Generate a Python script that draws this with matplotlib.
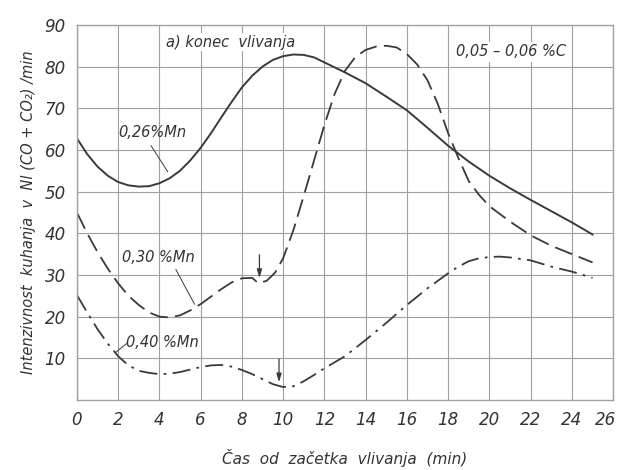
import matplotlib.pyplot as plt
import matplotlib.transforms as mtransforms
import numpy as np

# krivulje - odčitano s slike
x_26 = [0, 0.5, 1, 1.5, 2, 2.5, 3, 3.5, 4, 4.5, 5, 5.5, 6, 6.5, 7, 7.5, 8, 8.5, 9, 9.5,
        10, 10.5, 11, 11.5, 12, 13, 14, 15, 16, 17, 18, 19, 20, 21, 22, 23, 24, 25]
y_26 = [62.8, 59, 56, 53.8, 52.3, 51.5, 51.2, 51.3, 52, 53.2, 55, 57.5, 60.5, 64, 67.8, 71.5, 75, 77.8, 80, 81.6,
        82.5, 82.9, 82.8, 82.2, 81, 78.6, 76, 72.8, 69.5, 65.3, 61, 57.2, 53.8, 50.8, 48, 45.3, 42.6, 39.7]

x_30 = [0, 0.5, 1, 1.5, 2, 2.5, 3, 3.5, 4, 4.5, 5, 5.5, 6, 6.5, 7, 7.5, 8, 8.5, 8.8, 9.2, 9.6,
        10, 10.5, 11, 11.5, 12, 12.5, 13, 13.5, 14, 14.5, 15, 15.5, 16, 16.5, 17, 17.5, 18, 18.5,
        19, 19.5, 20, 21, 22, 23, 24, 25]
y_30 = [45, 40, 35.5, 31.5, 28, 25, 22.8, 21, 20, 19.8, 20.3, 21.5, 23, 24.8, 26.6, 28.2, 29.2, 29.3, 28, 28.6, 30.5,
        34, 40.8, 49, 57.5, 66, 73.5, 79, 82.3, 84, 84.8, 85, 84.6, 83, 80.5, 76.7, 71, 64, 58,
        52.5, 49.2, 46.5, 42.8, 39.5, 37, 35, 33]

x_40 = [0, 0.5, 1, 1.5, 2, 2.5, 3, 3.5, 4, 4.5, 5, 5.5, 6, 6.5, 7, 7.5, 8, 8.5, 9, 9.5,
        10, 10.5, 11, 11.5, 12, 13, 14, 15, 16, 17, 18, 18.5, 19, 19.5, 20, 20.5, 21, 22, 23, 24, 25]
y_40 = [25.2, 21, 17, 13.5, 10.5, 8.3, 7, 6.5, 6.2, 6.3, 6.7, 7.3, 7.9, 8.3, 8.4, 8, 7.2, 6.2, 5, 3.8,
        3.1, 3.3, 4.5, 6, 7.6, 10.5, 14.4, 18.5, 22.8, 26.8, 30.4, 32, 33.3, 34, 34.3, 34.4, 34.2, 33.5, 32, 30.8, 29.3]

x_ticks = list(range(0, 27, 2))
y_ticks = [10, 20, 30, 40, 50, 60, 70, 80, 90]

barva = '#3a3a3a'
mreza = '#a0a0a0'
pisava = dict(family='DejaVu Sans', style='italic', color='#333333')

fig = plt.figure(figsize=(6.2, 4.7), dpi=100)
ax = fig.add_axes([0.124, 0.149, 0.865, 0.798])

ax.plot(x_26, y_26, color=barva, lw=1.4)
ax.plot(x_30, y_30, color=barva, lw=1.3, dashes=(10, 4))
ax.plot(x_40, y_40, color=barva, lw=1.3, dashes=(10, 3.5, 1.5, 3.5))

ax.set_xlim(0, 26)
ax.set_ylim(0, 90)
ax.set_xticks(x_ticks)
ax.set_yticks(y_ticks)
ax.tick_params(length=0, labelsize=12, pad=8, colors='#333333')
for t in ax.get_xticklabels() + ax.get_yticklabels():
    t.set_fontstyle('italic')
# zadnja oznaka (26) malo v levo, da ne gre cez rob
zadnja = ax.get_xticklabels()[-1]
zadnja.set_transform(zadnja.get_transform() + mtransforms.ScaledTranslation(-8 / 100, 0, fig.dpi_scale_trans))
ax.grid(color=mreza, lw=0.8)
ax.set_axisbelow(True)
for s in ax.spines.values():
    s.set_color(mreza)
    s.set_linewidth(1)

# puščice - konec vlivanja
for xa, y1, y2 in [(10.3, 87, 83.2), (8.85, 35.5, 28.6), (9.8, 10.5, 3.6)]:
    ax.annotate('', xy=(xa, y2), xytext=(xa, y1),
                arrowprops=dict(arrowstyle='-|>,head_length=0.5,head_width=0.15', color=barva, lw=0.9))

ax.text(4.3, 85.8, 'a) konec  vlivanja', fontsize=10.5, va='center',
        bbox=dict(fc='white', ec='none', pad=1), **pisava)
ax.text(18.4, 83.5, '0,05 – 0,06 %C', fontsize=10.5, va='center',
        bbox=dict(fc='white', ec='none', pad=2), **pisava)
ax.text(2.0, 64.2, '0,26%Mn', fontsize=10.5, va='center', **pisava)
ax.plot([3.6, 4.4], [61, 54.8], color=barva, lw=0.7)
ax.text(2.2, 34.2, '0,30 %Mn', fontsize=10.5, va='center', **pisava)
ax.plot([4.8, 5.7], [31.3, 23], color=barva, lw=0.7)
ax.text(2.4, 13.8, '0,40 %Mn', fontsize=10.5, va='center', **pisava)
ax.plot([1.9, 2.4], [11.5, 13.5], color=barva, lw=0.7)

ax.set_xlabel('Čas  od  začetka  vlivanja  (min)', fontsize=11, labelpad=14, **pisava)
ax.set_ylabel('Intenzivnost  kuhanja  v  Nl (CO + CO₂) /min', fontsize=10.5, labelpad=6, **pisava)

fig.savefig('out.png', dpi=100)
